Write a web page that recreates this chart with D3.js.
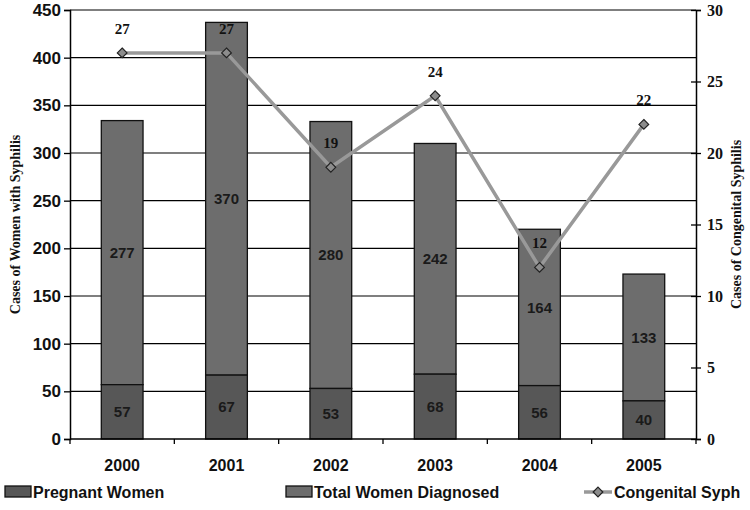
<!DOCTYPE html>
<html>
<head>
<meta charset="utf-8">
<script src="https://cdn.jsdelivr.net/npm/d3@7.9.0/dist/d3.min.js"></script>
<style>
  body { margin: 0; background: #fff; }
  svg { display: block; }
</style>
</head>
<body>
<script>
// data
const years = ["2000", "2001", "2002", "2003", "2004", "2005"];
const pregnant = [57, 67, 53, 68, 56, 40];
const totalDiagnosed = [277, 370, 280, 242, 164, 133];
const congenital = [27, 27, 19, 24, 12, 22];
const leftTicks = [0, 50, 100, 150, 200, 250, 300, 350, 400, 450];
const rightTicks = [0, 5, 10, 15, 20, 25, 30];

const width = 750, height = 510;
const margin = { top: 10, right: 54, bottom: 71, left: 70 };

const svg = d3.select("body").append("svg")
    .attr("width", width)
    .attr("height", height);

const yL = d3.scaleLinear().domain([0, 450]).range([height - margin.bottom, margin.top]);
const yR = d3.scaleLinear().domain([0, 30]).range([height - margin.bottom, margin.top]);

const bandStep = (width - margin.left - margin.right) / years.length;
const cx = d => margin.left + bandStep * (years.indexOf(d) + 0.5);
const barW = bandStep * 0.4;

// gridlines
svg.append("g")
    .selectAll("line")
    .data(leftTicks.filter(t => t > 0))
    .join("line")
    .attr("x1", margin.left)
    .attr("x2", width - margin.right)
    .attr("y1", d => yL(d))
    .attr("y2", d => yL(d))
    .attr("stroke", "#000")
    .attr("stroke-width", 1.2);

// stacked bars
const rows = years.map((yr, i) => ({ yr, p: pregnant[i], t: totalDiagnosed[i] }));

const bars = svg.append("g");
bars.selectAll("rect.tot")
    .data(rows)
    .join("rect")
    .attr("class", "tot")
    .attr("x", d => cx(d.yr) - barW / 2)
    .attr("width", barW)
    .attr("y", d => yL(d.p + d.t))
    .attr("height", d => yL(d.p) - yL(d.p + d.t))
    .attr("fill", "#6d6d6d")
    .attr("stroke", "#111")
    .attr("stroke-width", 1.3);

bars.selectAll("rect.preg")
    .data(rows)
    .join("rect")
    .attr("class", "preg")
    .attr("x", d => cx(d.yr) - barW / 2)
    .attr("width", barW)
    .attr("y", d => yL(d.p))
    .attr("height", d => yL(0) - yL(d.p))
    .attr("fill", "#575757")
    .attr("stroke", "#111")
    .attr("stroke-width", 1.3);

// bar labels
const sans = "'Liberation Sans', Arial, sans-serif";
const serif = "'Liberation Serif', 'Times New Roman', serif";
bars.selectAll("text.tl")
    .data(rows)
    .join("text")
    .attr("x", d => cx(d.yr))
    .attr("y", d => yL(d.p + d.t / 2))
    .attr("dy", "0.35em")
    .attr("text-anchor", "middle")
    .attr("font-family", sans)
    .attr("font-weight", "bold")
    .attr("font-size", 15)
    .attr("fill", "#1a1a1a")
    .text(d => d.t);

bars.selectAll("text.pl")
    .data(rows)
    .join("text")
    .attr("x", d => cx(d.yr))
    .attr("y", d => yL(d.p / 2))
    .attr("dy", "0.35em")
    .attr("text-anchor", "middle")
    .attr("font-family", sans)
    .attr("font-weight", "bold")
    .attr("font-size", 15)
    .attr("fill", "#1a1a1a")
    .text(d => d.p);

// congenital line
const line = d3.line()
    .x((d, i) => cx(years[i]))
    .y(d => yR(d));

svg.append("path")
    .datum(congenital)
    .attr("d", line)
    .attr("fill", "none")
    .attr("stroke", "#999")
    .attr("stroke-width", 3.5);

const diamond = d3.symbol().type(d3.symbolDiamond2).size(60);
svg.append("g")
    .selectAll("path")
    .data(congenital)
    .join("path")
    .attr("d", diamond)
    .attr("transform", (d, i) => `translate(${cx(years[i])},${yR(d)})`)
    .attr("fill", "#8c8c8c")
    .attr("stroke", "#222")
    .attr("stroke-width", 1.2);

svg.append("g")
    .selectAll("text")
    .data(congenital)
    .join("text")
    .attr("x", (d, i) => cx(years[i]))
    .attr("y", d => yR(d) - 19)
    .attr("text-anchor", "middle")
    .attr("font-family", serif)
    .attr("font-weight", "bold")
    .attr("font-size", 15)
    .attr("fill", "#111")
    .text(d => d);

// axes
const axL = svg.append("g")
    .attr("transform", `translate(${margin.left},0)`)
    .call(d3.axisLeft(yL).tickValues(leftTicks).tickSize(6).tickPadding(3));
axL.select(".domain").attr("stroke", "#000").attr("stroke-width", 1.5);
axL.selectAll(".tick line").attr("stroke", "#000").attr("stroke-width", 1.3);
axL.selectAll("text")
    .attr("font-family", sans)
    .attr("font-weight", "bold")
    .attr("font-size", 17)
    .attr("fill", "#111");

const axR = svg.append("g")
    .attr("transform", `translate(${width - margin.right},0)`)
    .call(d3.axisRight(yR).tickValues(rightTicks).tickSize(5).tickPadding(6));
axR.select(".domain").attr("stroke", "#000").attr("stroke-width", 1.5);
axR.selectAll(".tick line")
    .attr("x1", -5)
    .attr("stroke", "#000")
    .attr("stroke-width", 1.3);
axR.selectAll("text")
    .attr("font-family", serif)
    .attr("font-weight", "bold")
    .attr("font-size", 16)
    .attr("fill", "#111");

// x axis: ticks at band boundaries
const xAxis = svg.append("g");
xAxis.append("line")
    .attr("x1", margin.left)
    .attr("x2", width - margin.right)
    .attr("y1", yL(0))
    .attr("y2", yL(0))
    .attr("stroke", "#000")
    .attr("stroke-width", 1.5);
xAxis.selectAll("line.tk")
    .data(d3.range(years.length + 1))
    .join("line")
    .attr("class", "tk")
    .attr("x1", i => margin.left + i * bandStep)
    .attr("x2", i => margin.left + i * bandStep)
    .attr("y1", yL(0))
    .attr("y2", yL(0) + 5)
    .attr("stroke", "#000")
    .attr("stroke-width", 1.3);
xAxis.selectAll("text")
    .data(years)
    .join("text")
    .attr("x", d => cx(d))
    .attr("y", yL(0) + 32)
    .attr("text-anchor", "middle")
    .attr("font-family", sans)
    .attr("font-weight", "bold")
    .attr("font-size", 16)
    .attr("fill", "#111")
    .text(d => d);

// axis titles
svg.append("text")
    .attr("transform", `translate(20,${(yL(0) + yL(450)) / 2}) rotate(-90)`)
    .attr("text-anchor", "middle")
    .attr("font-family", serif)
    .attr("font-weight", "bold")
    .attr("font-size", 14)
    .attr("fill", "#111")
    .text("Cases of Women with Syphilis");

svg.append("text")
    .attr("transform", `translate(741,${(yL(0) + yL(450)) / 2}) rotate(-90)`)
    .attr("text-anchor", "middle")
    .attr("font-family", serif)
    .attr("font-weight", "bold")
    .attr("font-size", 14)
    .attr("fill", "#111")
    .text("Cases of Congenital Syphilis");

// legend
const legendY = 492;
const legend = svg.append("g")
    .attr("font-family", sans)
    .attr("font-weight", "bold")
    .attr("font-size", 16)
    .attr("fill", "#111");

[["Pregnant Women", "#575757", 5], ["Total Women Diagnosed", "#6d6d6d", 286]].forEach(([label, col, lx]) => {
    legend.append("rect")
        .attr("x", lx)
        .attr("y", legendY - 6)
        .attr("width", 26)
        .attr("height", 11)
        .attr("fill", col)
        .attr("stroke", "#111")
        .attr("stroke-width", 1.3);
    legend.append("text")
        .attr("x", lx + 28)
        .attr("y", legendY)
        .attr("dy", "0.35em")
        .text(label);
});

legend.append("line")
    .attr("x1", 584)
    .attr("x2", 612)
    .attr("y1", legendY)
    .attr("y2", legendY)
    .attr("stroke", "#999")
    .attr("stroke-width", 3.5);
legend.append("path")
    .attr("d", diamond)
    .attr("transform", `translate(598,${legendY})`)
    .attr("fill", "#8c8c8c")
    .attr("stroke", "#222")
    .attr("stroke-width", 1.2);
legend.append("text")
    .attr("x", 614)
    .attr("y", legendY)
    .attr("dy", "0.35em")
    .text("Congenital Syph");
</script>
</body>
</html>
